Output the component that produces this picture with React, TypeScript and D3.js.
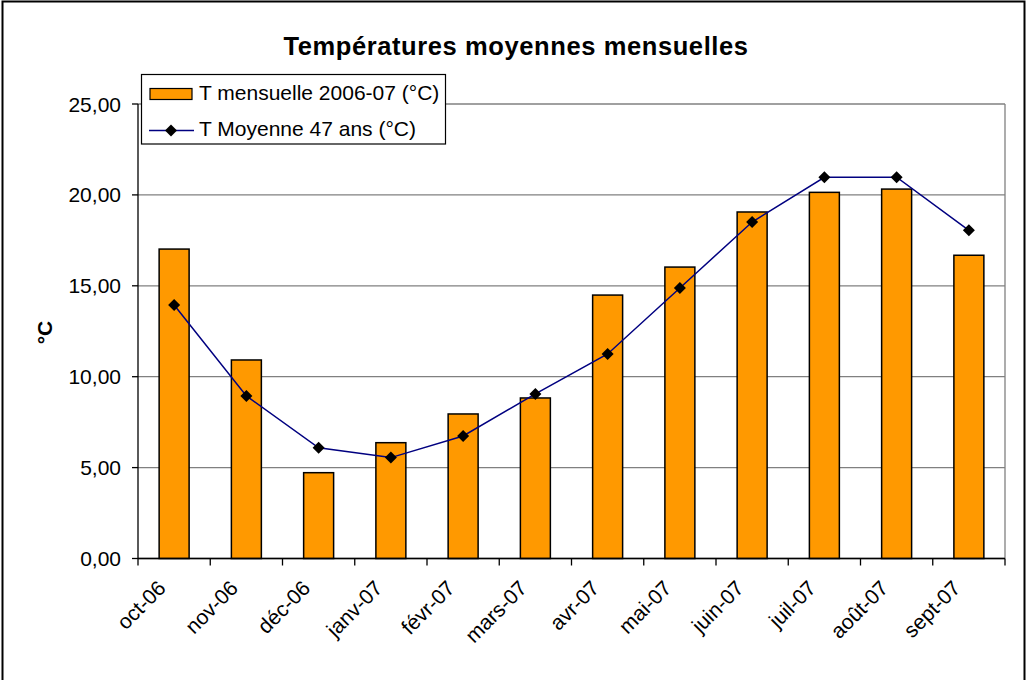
import React from "react";
import * as d3 from "d3";

const months = ["oct-06", "nov-06", "déc-06", "janv-07", "févr-07", "mars-07", "avr-07", "mai-07", "juin-07", "juil-07", "août-07", "sept-07"];
const monthly = [17.02, 10.92, 4.72, 6.37, 7.95, 8.83, 14.49, 16.03, 19.06, 20.14, 20.32, 16.68];
const avg47 = [13.94, 8.94, 6.09, 5.55, 6.74, 9.05, 11.25, 14.88, 18.51, 20.97, 20.97, 18.05];
const yTicks = [0, 5, 10, 15, 20, 25];
const titleText = "Températures moyennes mensuelles";
const yLabel = "°C";
const seriesNames = ["T mensuelle 2006-07 (°C)", "T Moyenne 47 ans (°C)"];

export default function App() {
  const W = 1027, H = 680;
  const left = 138, right = 1005, top = 104, bottom = 558.5;
  const x = d3.scaleBand<string>().domain(months).range([left, right]).paddingInner(0).paddingOuter(0);
  const y = d3.scaleLinear().domain([0, 25]).range([bottom, top]);
  const bw = x.bandwidth() * 0.415;
  const fmt = (v: number) => v.toFixed(2).replace(".", ",");
  const line = d3.line<number>().x((_, i) => x(months[i])! + x.bandwidth() / 2).y(d => y(d));
  const font = "Arial, 'Liberation Sans', sans-serif";
  const diamond = (cx: number, cy: number, s = 6) => `M${cx},${cy - s}L${cx + s},${cy}L${cx},${cy + s}L${cx - s},${cy}Z`;
  const orange = "#FF9900";
  const navy = "#000080";

  return (
    <svg width={W} height={H} style={{ position: "absolute", left: 0, top: 0 }} fontFamily={font}>
      <rect x={0} y={0} width={W} height={H} fill="#fff" />
      <rect x={2.5} y={1.5} width={1022} height={700} fill="none" stroke="#000" strokeWidth={2} />
      <text x={516} y={55} textAnchor="middle" fontWeight="bold" fontSize={25.5} letterSpacing={0.6}>{titleText}</text>
      {/* gridlines */}
      {yTicks.map(t => (
        <line key={t} x1={left} x2={right} y1={y(t)} y2={y(t)} stroke="#808080" strokeWidth={1.3} />
      ))}
      <line x1={right} x2={right} y1={top} y2={bottom} stroke="#808080" strokeWidth={1.3} />
      {/* bars */}
      {monthly.map((v, i) => (
        <rect key={i} x={x(months[i])! + (x.bandwidth() - bw) / 2} y={y(v)} width={bw} height={y(0) - y(v)}
          fill={orange} stroke="#000" strokeWidth={1.5} />
      ))}
      {/* axes */}
      <line x1={left} x2={left} y1={top} y2={bottom + 0.5} stroke="#000" strokeWidth={1.3} />
      <line x1={left} x2={right} y1={bottom} y2={bottom} stroke="#000" strokeWidth={1.3} />
      {yTicks.map(t => (
        <g key={t}>
          <line x1={left - 6} x2={left} y1={y(t)} y2={y(t)} stroke="#000" strokeWidth={1.3} />
          <text x={121} y={y(t) + 7.5} textAnchor="end" fontSize={21}>{fmt(t)}</text>
        </g>
      ))}
      {months.map(m => (
        <line key={m} x1={x(m)!} x2={x(m)!} y1={bottom} y2={bottom + 7} stroke="#000" strokeWidth={1.3} />
      ))}
      <line x1={right} x2={right} y1={bottom} y2={bottom + 7} stroke="#000" strokeWidth={1.3} />
      {months.map(m => {
        const cx = x(m)! + x.bandwidth() / 2 - 7;
        const cy = bottom + 31;
        return (
          <text key={m} x={cx} y={cy} textAnchor="end" fontSize={21}
            transform={`rotate(-45, ${cx}, ${cy})`}>{m}</text>
        );
      })}
      <text x={52} y={332.5} textAnchor="middle" fontWeight="bold" fontSize={21} transform="rotate(-90, 52, 332.5)">{yLabel}</text>
      {/* line series */}
      <path d={line(avg47) ?? ""} fill="none" stroke={navy} strokeWidth={1.5} />
      {avg47.map((v, i) => (
        <path key={i} d={diamond(x(months[i])! + x.bandwidth() / 2, y(v))} fill="#000" />
      ))}
      {/* legend */}
      <rect x={141.5} y={74.5} width={304} height={69.5} fill="#fff" stroke="#000" strokeWidth={1.2} />
      <rect x={150} y={88.5} width={42} height={11} fill={orange} stroke="#000" strokeWidth={1.2} />
      <text x={199} y={100} fontSize={21}>{seriesNames[0]}</text>
      <line x1={149} x2={194} y1={130.5} y2={130.5} stroke={navy} strokeWidth={1.5} />
      <path d={diamond(171, 130.5)} fill="#000" />
      <text x={199} y={135.5} fontSize={21}>{seriesNames[1]}</text>
    </svg>
  );
}
